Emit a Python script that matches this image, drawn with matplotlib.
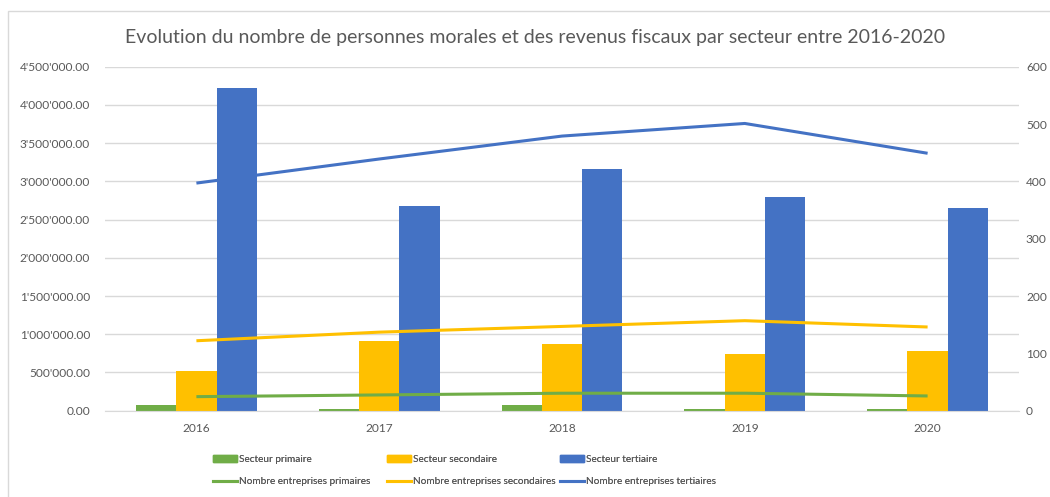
import matplotlib
matplotlib.use("Agg")
import matplotlib.pyplot as plt
from matplotlib.patches import Rectangle, Patch
from matplotlib.lines import Line2D
from matplotlib.ticker import FuncFormatter, MultipleLocator
import numpy as np

plt.rcParams['font.family'] = ['Lato', 'DejaVu Sans']

years = ["2016", "2017", "2018", "2019", "2020"]
rev_primaire = [70000, 26000, 79000, 26000, 18000]
rev_secondaire = [520000, 916000, 877000, 746000, 777000]
rev_tertiaire = [4220000, 2679000, 3164000, 2793000, 2649000]
nb_primaires = [24.5, 27.5, 30.5, 30.5, 25.7]
nb_secondaires = [122, 137, 147, 157, 146]
nb_tertiaires = [397, 439, 479, 501, 449]

GREEN = "#70AD47"
YELLOW = "#FFC000"
BLUE = "#4472C4"
GRID = "#D9D9D9"
TXT = "#595959"

W, H = 1050, 497
fig = plt.figure(figsize=(W / 100, H / 100), dpi=100)
fig.patch.set_facecolor("white")

# outer chart border
fig.add_artist(Rectangle((8 / W, -0.05), 1.2, (H - 11) / H + 0.05, transform=fig.transFigure,
                         fill=False, edgecolor=GRID, linewidth=1.0))

ax = fig.add_axes([105 / W, (H - 410.7) / H, (1019 - 105) / W, (410.7 - 66.7) / H])
ax2 = ax.twinx()

x = np.arange(len(years))
bw = 0.22
ax.bar(x - bw, rev_primaire, bw, color=GREEN, zorder=2)
ax.bar(x, rev_secondaire, bw, color=YELLOW, zorder=2)
ax.bar(x + bw, rev_tertiaire, bw, color=BLUE, zorder=2)

lw = 2.2
ax2.plot(x, nb_primaires, color=GREEN, lw=lw, solid_capstyle="butt")
ax2.plot(x, nb_secondaires, color=YELLOW, lw=lw, solid_capstyle="butt")
ax2.plot(x, nb_tertiaires, color=BLUE, lw=lw, solid_capstyle="butt")

ax.set_xlim(-0.5, len(years) - 0.5)
ax.set_ylim(0, 4500000)
ax2.set_ylim(0, 600)
ax.yaxis.set_major_locator(MultipleLocator(500000))
ax2.yaxis.set_major_locator(MultipleLocator(100))
ax.yaxis.set_major_formatter(FuncFormatter(lambda v, p: f"{v:,.2f}".replace(",", "'")))

ax.set_xticks(x)
ax.set_xticklabels(years)
ax.grid(axis="y", color=GRID, linewidth=1.0, zorder=0)
ax.set_axisbelow(True)
for a in (ax, ax2):
    for s in a.spines.values():
        s.set_visible(False)
ax.spines["bottom"].set_visible(True)
ax.spines["bottom"].set_color(GRID)
ax.tick_params(axis="both", length=0, colors=TXT, labelsize=8.6)
ax.tick_params(axis="y", pad=10.8)
ax.tick_params(axis="x", pad=9)
ax2.tick_params(axis="y", length=0, colors=TXT, labelsize=8.6, pad=5)

fig.text(535 / W, 1 - 37 / H, "Evolution du nombre de personnes morales et des revenus fiscaux par secteur entre 2016-2020",
         ha="center", va="center", fontsize=14.0, color=TXT)

groups = [
    (GREEN, "Secteur primaire", "Nombre entreprises primaires", 213),
    (YELLOW, "Secteur secondaire", "Nombre entreprises secondaires", 387),
    (BLUE, "Secteur tertiaire", "Nombre entreprises tertiaires", 560),
]
for color, lab_bar, lab_line, xpos in groups:
    leg = fig.legend([Patch(color=color), Line2D([], [], color=color, lw=lw)], [lab_bar, lab_line],
                     loc="center left", bbox_to_anchor=(xpos / W, 1 - 470.5 / H),
                     frameon=False, fontsize=7.2, handlelength=2.4, handleheight=0.65,
                     handletextpad=0.2, labelspacing=1.3, borderpad=0, borderaxespad=0,
                     labelcolor=TXT)
    fig.add_artist(leg)

fig.savefig("out.png", dpi=100, facecolor="white")
